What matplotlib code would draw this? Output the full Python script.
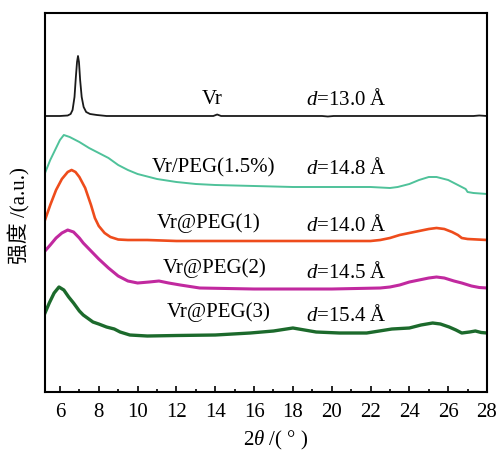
import matplotlib
matplotlib.use("Agg")
import matplotlib.pyplot as plt
from matplotlib.ticker import MultipleLocator

plt.rcParams['font.family'] = ['Liberation Serif', 'Noto Sans CJK SC']
plt.rcParams['mathtext.fontset'] = 'custom'
plt.rcParams['mathtext.rm'] = 'Liberation Serif'
plt.rcParams['mathtext.it'] = 'Liberation Serif:italic'

# ---- data (2theta, stacked intensity, arbitrary units) ----
vr_x = [5.23, 6.0, 6.4, 6.55, 6.65, 6.75, 6.82, 6.88, 6.93, 6.98, 7.04, 7.12, 7.22, 7.35, 7.55,
        7.9, 8.4, 10, 13.9, 14.1, 14.3, 19.5, 19.8, 20.1, 27.3, 27.6, 28]
vr_y = [276, 276, 276.5, 278, 282, 295, 315, 330, 336, 330, 312, 295, 285, 280, 278,
        277, 276, 276, 276, 277.5, 276, 276, 275.5, 276, 276, 276.5, 276]

peg15_x = [5.23, 5.5, 5.7, 6.0, 6.2, 6.5, 7.0, 7.5, 8.0, 8.5, 9.0, 9.5, 10.0, 11, 12, 13, 14, 16,
           18, 20, 22, 23, 23.4, 24, 24.5, 25.0, 25.4, 26, 26.5, 26.9, 27.0, 27.3, 28]
peg15_y = [219, 232, 240, 252, 257, 255, 250, 244, 239, 234, 227, 222, 218, 213, 210, 208, 207, 206,
           205, 205, 205, 204, 205, 208, 212, 215, 215, 212, 207, 203, 200, 199, 198]

peg1_x = [5.23, 5.5, 5.8, 6.1, 6.4, 6.6, 6.8, 7.0, 7.3, 7.6, 7.8, 8.0, 8.3, 8.6, 9.0, 9.5, 10.5,
          12, 22, 22.5, 23, 23.5, 24, 24.5, 25.0, 25.4, 25.8, 26.2, 26.5, 26.7, 27.0, 28]
peg1_y = [172, 187, 202, 213, 220, 222, 220, 215, 204, 187, 174, 166, 159, 155, 152.5, 152, 152,
          151, 151, 152, 154, 157, 159, 161, 163, 164, 163, 160, 157, 154, 153, 152]

peg2_x = [5.23, 5.5, 5.8, 6.1, 6.4, 6.7, 7.0, 7.2, 7.6, 8.0, 8.5, 9.0, 9.5, 10.0, 10.6, 11.1, 11.6,
          12.2, 13.2, 16, 20, 22.5, 23.0, 23.5, 24.0, 24.5, 25.0, 25.4, 25.8, 26.3, 26.7, 27.2, 27.6, 28]
peg2_y = [141, 147, 154, 159, 162, 160, 154, 149, 141, 133, 124, 116, 111, 109, 110, 111, 109,
          107, 104, 103, 103, 104, 105, 107, 110, 112, 114, 115, 114, 111, 109, 106, 104.5, 104]

peg3_x = [5.23, 5.45, 5.7, 5.95, 6.2, 6.45, 6.7, 7.0, 7.2, 7.7, 8.0, 8.4, 8.8, 9.1, 9.6, 10.5, 12,
          14, 15.8, 17, 18, 18.6, 19.2, 20.4, 21.8, 23.1, 24.0, 24.6, 25.2, 25.6, 26.05, 26.4, 26.7,
          27.1, 27.4, 27.7, 28]
peg3_y = [79, 89, 99, 105, 102, 95, 89, 81, 77, 70, 68, 65, 63, 60, 57, 56, 56.5,
          57, 59, 61, 64, 62, 60, 59, 59, 63, 64, 67, 69, 68, 65, 62, 59,
          60, 61, 59.5, 59]

names = ['Vr', 'Vr/PEG(1.5%)', 'Vr@PEG(1)', 'Vr@PEG(2)', 'Vr@PEG(3)']
spacings = ['13.0', '14.8', '14.0', '14.5', '15.4']
xticks = [6, 8, 10, 12, 14, 16, 18, 20, 22, 24, 26, 28]

series = [(vr_x, vr_y, '#1a1a1a', 1.3),
          (peg15_x, peg15_y, '#4fc29a', 1.4),
          (peg1_x, peg1_y, '#ee4c1c', 1.9),
          (peg2_x, peg2_y, '#c1299f', 2.2),
          (peg3_x, peg3_y, '#1c6a2c', 2.4)]

# label anchor positions (data coords)
name_pos = [(13.3, 292), (10.73, 224), (10.99, 169), (11.3, 124), (11.5, 80)]
d_pos = [(18.65, 292), (18.65, 223), (18.65, 167), (18.65, 120), (18.65, 77)]

fig = plt.figure(figsize=(5.0, 4.51), dpi=100)
ax = fig.add_axes([0.09, 0.1308, 0.884, 0.8404])

for x, y, c, lw in series:
    ax.plot(x, y, color=c, lw=lw, solid_joinstyle='round')

for (nx, ny), n in zip(name_pos, names):
    ax.text(nx, ny, n, fontsize=15, ha='left', va='center')
for (dx, dy), s in zip(d_pos, spacings):
    ax.text(dx, dy, r'$d$=' + s + ' Å', fontsize=15, ha='left', va='center')

ax.set_xlim(5.23, 28)
ax.set_ylim(0, 379)
ax.set_yticks([])
ax.set_xticks(xticks)
ax.xaxis.set_minor_locator(MultipleLocator(1))
ax.tick_params(axis='x', which='major', direction='in', length=4, width=1.2, labelsize=15, pad=8)
ax.tick_params(axis='x', which='minor', direction='in', length=2.5, width=1.2)
for sp in ax.spines.values():
    sp.set_linewidth(1.5)

fig.text(0.552, 1 - 440 / 451, r'2$\theta$ /( ° )', fontsize=15, ha='center', va='center')
fig.text(0.038, 1 - 216 / 451, '强度 /(a.u.)', fontsize=15, ha='center', va='center', rotation=90)

fig.savefig('out.png', dpi=100)
